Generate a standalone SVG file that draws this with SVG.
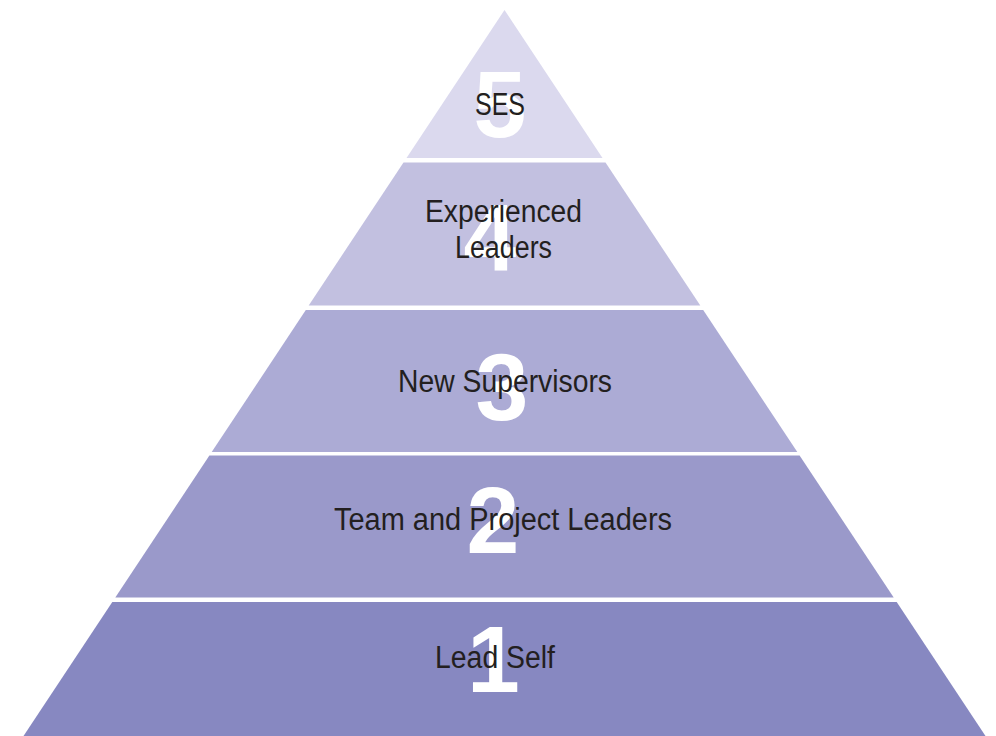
<svg xmlns="http://www.w3.org/2000/svg" width="996" height="736" viewBox="0 0 996 736">
  <style>
    .num { font-family: "Liberation Sans", Arial, sans-serif; font-weight: bold; font-size: 95px; fill: #ffffff; text-anchor: middle; }
    .lbl { font-family: "Liberation Sans", Arial, sans-serif; font-size: 31px; fill: #231f20; text-anchor: middle; }
  </style>
  <rect x="0" y="0" width="996" height="736" fill="#ffffff"/>
  <g id="level5">
    <polygon points="504.5,10 602.5,158 406.5,158" fill="#dbd9ee"/>
    <text class="num" x="500" y="137">5</text>
    <text class="lbl" x="500" y="115" textLength="50" lengthAdjust="spacingAndGlyphs">SES</text>
  </g>
  <g id="level4">
    <polygon points="403.5,162.5 605.5,162.5 700.3,305.5 308.7,305.5" fill="#c2c0e0"/>
    <text class="num" x="490" y="270">4</text>
    <text class="lbl" x="503.5" y="222" textLength="157" lengthAdjust="spacingAndGlyphs">Experienced</text>
    <text class="lbl" x="503.5" y="258" textLength="97" lengthAdjust="spacingAndGlyphs">Leaders</text>
  </g>
  <g id="level3">
    <polygon points="305.8,310 703.2,310 797.3,452 211.7,452" fill="#acabd5"/>
    <text class="num" x="502" y="420">3</text>
    <text class="lbl" x="505" y="392" textLength="214" lengthAdjust="spacingAndGlyphs">New Supervisors</text>
  </g>
  <g id="level2">
    <polygon points="209.4,455.5 799.6,455.5 893.7,597.5 115.3,597.5" fill="#9a99ca"/>
    <text class="num" x="493" y="553">2</text>
    <text class="lbl" x="503" y="530" textLength="338" lengthAdjust="spacingAndGlyphs">Team and Project Leaders</text>
  </g>
  <g id="level1">
    <polygon points="112.3,602 896.7,602 985.5,736 23.5,736" fill="#8788c1"/>
    <text class="num" x="493.5" y="692">1</text>
    <text class="lbl" x="495" y="668" textLength="120" lengthAdjust="spacingAndGlyphs">Lead Self</text>
  </g>
  <g id="connectors"/>
</svg>
